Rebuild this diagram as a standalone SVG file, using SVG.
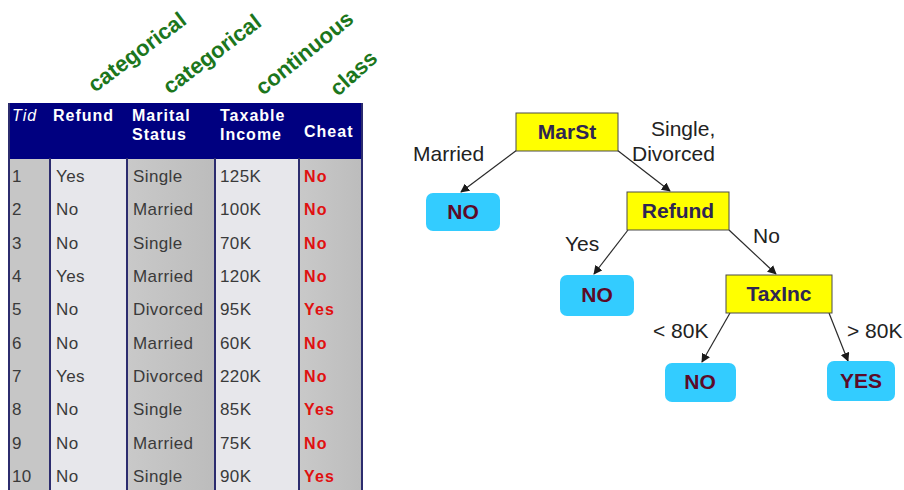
<svg xmlns="http://www.w3.org/2000/svg" width="904" height="490" viewBox="0 0 904 490">
  <defs>
    <marker id="arrow" viewBox="0 0 10 10" refX="9" refY="5" markerWidth="9" markerHeight="9" markerUnits="userSpaceOnUse" orient="auto">
      <path d="M0,0 L10,5 L0,10 z" fill="#1a1a1a"/>
    </marker>
    <linearGradient id="grayCol" x1="0" y1="0" x2="1" y2="0">
      <stop offset="0" stop-color="#c9c9c9"/>
      <stop offset="1" stop-color="#bcbcbc"/>
    </linearGradient>
  </defs>
  <style>
    .attr { font-family: "Liberation Sans", Arial, sans-serif; font-size: 22px; font-weight: bold; fill: #1c761c; }
    .hdr { font-family: "Liberation Sans", Arial, sans-serif; font-size: 16px; font-weight: bold; fill: #ffffff; letter-spacing: 1px; }
    .cell { font-family: "Liberation Sans", Arial, sans-serif; font-size: 17px; fill: #3a3a3a; letter-spacing: 0.4px; }
    .cls { font-family: "Liberation Sans", Arial, sans-serif; font-size: 16px; font-weight: bold; fill: #e01010; letter-spacing: 1.2px; }
    .sep { stroke: #2c2c6e; stroke-width: 2; }
    .split { fill: #ffff00; stroke: #4a4a4a; stroke-width: 1; }
    .leaf { fill: #33ccff; }
    .ntext { font-family: "Liberation Sans", Arial, sans-serif; font-size: 21px; font-weight: bold; fill: #2e2553; text-anchor: middle; }
    .ltext { font-family: "Liberation Sans", Arial, sans-serif; font-size: 21px; font-weight: bold; fill: #5c0a28; text-anchor: middle; }
    .elabel { font-family: "Liberation Sans", Arial, sans-serif; font-size: 21px; fill: #222222; }
    .edge { stroke: #2a2a2a; stroke-width: 1.2; fill: none; marker-end: url(#arrow); }
  </style>

  <rect width="904" height="490" fill="#ffffff"/>

  <!-- attribute type annotations -->
  <g id="types">
    <text class="attr" transform="translate(95,93) rotate(-37)">categorical</text>
    <text class="attr" transform="translate(170,95) rotate(-37)">categorical</text>
    <text class="attr" transform="translate(263,96) rotate(-39)">continuous</text>
    <text class="attr" transform="translate(338,97) rotate(-42)">class</text>
  </g>

  <!-- training data table -->
  <g id="table">
    <rect x="8" y="158" width="42" height="334" fill="#c6c6c6"/>
    <rect x="50" y="158" width="77" height="334" fill="#e7e7eb"/>
    <rect x="127" y="158" width="88" height="334" fill="url(#grayCol)"/>
    <rect x="215" y="158" width="84" height="334" fill="#e7e7eb"/>
    <rect x="299" y="158" width="64" height="334" fill="url(#grayCol)"/>
    <rect x="8" y="103" width="355" height="56" fill="#000080"/>
    <line class="sep" x1="50" y1="158" x2="50" y2="492"/>
    <line class="sep" x1="127" y1="158" x2="127" y2="492"/>
    <line class="sep" x1="215" y1="158" x2="215" y2="492"/>
    <line class="sep" x1="299" y1="158" x2="299" y2="492"/>
    <line class="sep" x1="9" y1="103" x2="9" y2="492"/>
    <line class="sep" x1="362" y1="103" x2="362" y2="492"/>

    <text class="hdr" x="12" y="121" font-style="italic" style="font-weight:normal">Tid</text>
    <text class="hdr" x="53" y="121">Refund</text>
    <text class="hdr" x="132" y="121">Marital</text>
    <text class="hdr" x="132" y="140">Status</text>
    <text class="hdr" x="220" y="121">Taxable</text>
    <text class="hdr" x="220" y="140">Income</text>
    <text class="hdr" x="304" y="137">Cheat</text>

    <g class="cell">
      <text x="12" y="182">1</text><text x="56" y="182">Yes</text><text x="133" y="182">Single</text><text x="220" y="182">125K</text>
      <text x="12" y="215">2</text><text x="56" y="215">No</text><text x="133" y="215">Married</text><text x="220" y="215">100K</text>
      <text x="12" y="249">3</text><text x="56" y="249">No</text><text x="133" y="249">Single</text><text x="220" y="249">70K</text>
      <text x="12" y="282">4</text><text x="56" y="282">Yes</text><text x="133" y="282">Married</text><text x="220" y="282">120K</text>
      <text x="12" y="315">5</text><text x="56" y="315">No</text><text x="133" y="315">Divorced</text><text x="220" y="315">95K</text>
      <text x="12" y="349">6</text><text x="56" y="349">No</text><text x="133" y="349">Married</text><text x="220" y="349">60K</text>
      <text x="12" y="382">7</text><text x="56" y="382">Yes</text><text x="133" y="382">Divorced</text><text x="220" y="382">220K</text>
      <text x="12" y="415">8</text><text x="56" y="415">No</text><text x="133" y="415">Single</text><text x="220" y="415">85K</text>
      <text x="12" y="449">9</text><text x="56" y="449">No</text><text x="133" y="449">Married</text><text x="220" y="449">75K</text>
      <text x="12" y="482">10</text><text x="56" y="482">No</text><text x="133" y="482">Single</text><text x="220" y="482">90K</text>
    </g>
    <g class="cls">
      <text x="304" y="182">No</text>
      <text x="304" y="215">No</text>
      <text x="304" y="249">No</text>
      <text x="304" y="282">No</text>
      <text x="304" y="315">Yes</text>
      <text x="304" y="349">No</text>
      <text x="304" y="382">No</text>
      <text x="304" y="415">Yes</text>
      <text x="304" y="449">No</text>
      <text x="304" y="482">Yes</text>
    </g>
  </g>

  <!-- decision tree connectors -->
  <g id="edges">
    <line class="edge" x1="517" y1="150" x2="461" y2="192"/>
    <line class="edge" x1="617" y1="150" x2="670" y2="191"/>
    <line class="edge" x1="628" y1="230" x2="594" y2="274"/>
    <line class="edge" x1="729" y1="230" x2="776" y2="274"/>
    <line class="edge" x1="730" y1="313" x2="702" y2="362"/>
    <line class="edge" x1="829" y1="313" x2="848" y2="361"/>
  </g>

  <!-- edge labels -->
  <g id="edge-labels" class="elabel">
    <text x="413" y="161">Married</text>
    <text x="651" y="136">Single,</text>
    <text x="632" y="161">Divorced</text>
    <text x="565" y="251">Yes</text>
    <text x="753" y="243">No</text>
    <text x="653" y="338">&lt; 80K</text>
    <text x="847" y="338">&gt; 80K</text>
  </g>

  <g id="marst">
    <rect class="split" x="516" y="113" width="102" height="38"/>
    <text class="ntext" x="567" y="139">MarSt</text>
  </g>
  <g id="no-married">
    <rect class="leaf" x="426" y="193" width="74" height="38" rx="7"/>
    <text class="ltext" x="463" y="219">NO</text>
  </g>
  <g id="refund">
    <rect class="split" x="627" y="192" width="102" height="38"/>
    <text class="ntext" x="678" y="218">Refund</text>
  </g>
  <g id="no-refund">
    <rect class="leaf" x="560" y="275" width="74" height="41" rx="7"/>
    <text class="ltext" x="597" y="302">NO</text>
  </g>
  <g id="taxinc">
    <rect class="split" x="726" y="275" width="106" height="38"/>
    <text class="ntext" x="779" y="301">TaxInc</text>
  </g>
  <g id="no-low">
    <rect class="leaf" x="665" y="363" width="71" height="39" rx="7"/>
    <text class="ltext" x="700" y="389">NO</text>
  </g>
  <g id="yes-high">
    <rect class="leaf" x="827" y="361" width="68" height="40" rx="7"/>
    <text class="ltext" x="861" y="388">YES</text>
  </g>
</svg>
